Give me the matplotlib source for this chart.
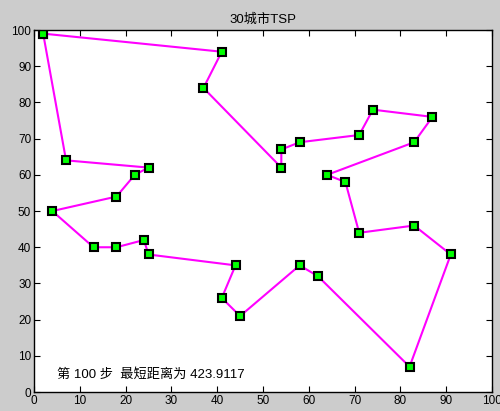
import matplotlib
matplotlib.use('Agg')
import matplotlib.pyplot as plt

plt.rcParams['font.family'] = ['Liberation Sans', 'Noto Sans CJK SC', 'DejaVu Sans']

# tour order of the 30 cities (closed loop)
route_x = [2, 41, 37, 54, 54, 58, 71, 74, 87, 83, 64, 68, 71, 83, 91, 82, 62, 58,
           45, 41, 44, 25, 24, 18, 13, 4, 18, 22, 25, 7, 2]
route_y = [99, 94, 84, 62, 67, 69, 71, 78, 76, 69, 60, 58, 44, 46, 38, 7, 32, 35,
           21, 26, 35, 38, 42, 40, 40, 50, 54, 60, 62, 64, 99]

x_ticks = [0, 10, 20, 30, 40, 50, 60, 70, 80, 90, 100]
y_ticks = [0, 10, 20, 30, 40, 50, 60, 70, 80, 90, 100]

step = 100
best_len = 423.9117

fig = plt.figure(figsize=(5, 4.11), dpi=100, facecolor='#cccccc')
ax = fig.add_axes([0.068, 0.046, 0.916, 0.881])
ax.set_facecolor('white')

ax.plot(route_x, route_y, color='#ff00ff', lw=1.5, marker='s', ms=6.2,
        mfc='#00ff00', mec='black', mew=1.5)

ax.set_xlim(0, 100)
ax.set_ylim(0, 100)
ax.set_xticks(x_ticks)
ax.set_yticks(y_ticks)
ax.tick_params(direction='in', top=True, right=True, labelsize=8.5, length=4,
               pad=2)
for s in ax.spines.values():
    s.set_linewidth(1.0)

ax.set_title('30城市TSP', fontsize=9.5, pad=5)
ax.text(5, 5, '第 %d 步  最短距离为 %.4f' % (step, best_len), fontsize=9.5,
        va='center', ha='left')

fig.savefig('out.png', dpi=100, facecolor=fig.get_facecolor())
